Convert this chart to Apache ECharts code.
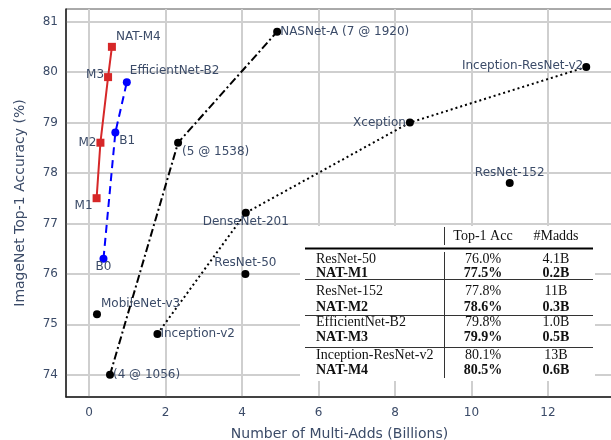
<!DOCTYPE html>
<html><head><meta charset="utf-8">
<script src="https://cdn.jsdelivr.net/npm/echarts@6/dist/echarts.min.js"></script>
<style>html,body{margin:0;padding:0;background:#fff}#c{width:611px;height:440px}</style>
</head><body><div id="c"></div>
<script>
// ---- data ----
const natNames = ['M1', 'M2', 'M3', 'NAT-M4'];
const natX = [0.2, 0.3, 0.5, 0.6];
const natY = [77.5, 78.6, 79.9, 80.5];

const effNames = ['B0', 'B1', 'EfficientNet-B2'];
const effX = [0.38, 0.69, 0.99];
const effY = [76.3, 78.8, 79.8];

const nasNames = ['(4 @ 1056)', '(5 @ 1538)', 'NASNet-A (7 @ 1920)'];
const nasX = [0.55, 2.33, 4.92];
const nasY = [74.0, 78.6, 80.8];

const handNames = ['Inception-v2', 'DenseNet-201', 'Xception', 'Inception-ResNet-v2'];
const handX = [1.79, 4.1, 8.39, 13.0];
const handY = [74.81, 77.21, 79.0, 80.1];

const otherNames = ['MobileNet-v3', 'ResNet-50', 'ResNet-152'];
const otherX = [0.21, 4.09, 11.0];
const otherY = [75.2, 76.0, 77.8];

const xTicks = [0, 2, 4, 6, 8, 10, 12];
const yTicks = [74, 75, 76, 77, 78, 79, 80, 81];

const tableHeader = ['', 'Top-1 Acc', '#Madds'];
const tableRows = [
  ['ResNet-50', '76.0%', '4.1B', false],
  ['NAT-M1', '77.5%', '0.2B', true],
  ['ResNet-152', '77.8%', '11B', false],
  ['NAT-M2', '78.6%', '0.3B', true],
  ['EfficientNet-B2', '79.8%', '1.0B', false],
  ['NAT-M3', '79.9%', '0.5B', true],
  ['Inception-ResNet-v2', '80.1%', '13B', false],
  ['NAT-M4', '80.5%', '0.6B', true]
];

// ---- label styles (per name) ----
const LBL = {
  'NAT-M4': ['left', 4, -10], 'M3': ['right', -4, -2], 'M2': ['right', -4, 0], 'M1': ['right', -4, 8],
  'EfficientNet-B2': ['left', 3, -11], 'B1': ['left', 4, 8], 'B0': ['center', 0, 8],
  '(4 @ 1056)': ['left', 3, 0], '(5 @ 1538)': ['left', 4, 9], 'NASNet-A (7 @ 1920)': ['left', 3, 0],
  'Inception-v2': ['left', 3, 0], 'DenseNet-201': ['center', 0, 9], 'Xception': ['right', -4, 0],
  'Inception-ResNet-v2': ['right', -3, -1], 'MobileNet-v3': ['left', 4, -10],
  'ResNet-50': ['center', 0, -11], 'ResNet-152': ['center', 0, -10]
};
const FONT = 'DejaVu Sans';
const TXT = '#3b4b68';
function pts(names, xs, ys) {
  return names.map((n, i) => {
    const l = LBL[n];
    return {
      name: n, value: [xs[i], ys[i]],
      label: { show: true, position: 'inside', align: l[0], verticalAlign: 'middle', offset: [l[1], l[2]],
        formatter: n, color: TXT, fontFamily: FONT, fontSize: 12 }
    };
  });
}

// ---- table graphics ----
const SERIF = 'Liberation Serif';
const g = [];
g.push({ type: 'rect', shape: { x: 300, y: 226, width: 295, height: 155 }, style: { fill: '#fff' }, z: 50 });
const colX = [316, 483, 556];
function txt(s, x, y, align, bold) {
  g.push({ type: 'text', x: x, y: y, z: 52, style: { text: s, font: (bold ? 'bold ' : '') + '14px "' + SERIF + '"', fill: '#111', align: align, verticalAlign: 'middle' } });
}
txt(tableHeader[1], colX[1], 236, 'center', false);
txt(tableHeader[2], colX[2], 236, 'center', false);
const rowY = [259, 273, 291, 307, 322, 337, 355, 370];
tableRows.forEach((r, i) => {
  txt(r[0], colX[0], rowY[i], 'left', r[3]);
  txt(r[1], colX[1], rowY[i], 'center', r[3]);
  txt(r[2], colX[2], rowY[i], 'center', r[3]);
});
function ln(x1, y1, x2, y2, w, c) {
  g.push({ type: 'line', z: 51, shape: { x1: x1, y1: y1, x2: x2, y2: y2 }, style: { stroke: c, lineWidth: w } });
}
ln(444.5, 227, 444.5, 245, 1, '#333');
ln(444.5, 252, 444.5, 378, 1, '#333');
ln(305, 248.5, 593, 248.5, 2, '#000');
[279.5, 315.5, 347.5].forEach(y => ln(305, y, 593, y, 1, '#333'));

// ---- chart ----
const chart = echarts.init(document.getElementById('c'), null, { renderer: 'canvas' });
const axisText = { color: TXT, fontFamily: FONT, fontSize: 12 };
chart.setOption({
  animation: false,
  backgroundColor: '#fff',
  grid: { left: 66, right: -2, top: 9, bottom: 43, show: true, borderColor: '#555', borderWidth: 1,
    containLabel: false, outerBoundsMode: 'none' },
  xAxis: {
    type: 'value', min: -0.6, max: 13.7,
    axisLine: { show: true, onZero: false, lineStyle: { color: '#222', width: 1.5 } },
    axisTick: { show: false, customValues: xTicks },
    axisLabel: Object.assign({ customValues: xTicks, margin: 10 }, axisText),
    splitLine: { show: true, lineStyle: { color: '#cfcfcf', width: 2 } },
    name: 'Number of Multi-Adds (Billions)', nameLocation: 'middle', nameGap: 30,
    nameTextStyle: { color: TXT, fontFamily: FONT, fontSize: 14 }
  },
  yAxis: {
    type: 'value', min: 73.56, max: 81.25,
    axisLine: { show: true, onZero: false, lineStyle: { color: '#222', width: 1.5 } },
    axisTick: { show: false, customValues: yTicks },
    axisLabel: Object.assign({ customValues: yTicks, margin: 8 }, axisText),
    splitLine: { show: true, lineStyle: { color: '#cfcfcf', width: 2 } },
    name: 'ImageNet Top-1 Accuracy (%)', nameLocation: 'middle', nameGap: 39,
    nameTextStyle: { color: TXT, fontFamily: FONT, fontSize: 14 }
  },
  series: [
    { type: 'line', data: pts(handNames, handX, handY), symbol: 'circle', symbolSize: 8,
      lineStyle: { color: '#000', width: 2, type: [2, 3] }, itemStyle: { color: '#000', opacity: 1 }, z: 3 },
    { type: 'line', data: pts(nasNames, nasX, nasY), symbol: 'circle', symbolSize: 8,
      lineStyle: { color: '#000', width: 2, type: [8, 3, 2, 3] }, itemStyle: { color: '#000', opacity: 1 }, z: 3 },
    { type: 'scatter', data: pts(otherNames, otherX, otherY), symbol: 'circle', symbolSize: 8,
      itemStyle: { color: '#000', opacity: 1 }, z: 3 },
    { type: 'line', data: pts(effNames, effX, effY), symbol: 'circle', symbolSize: 8,
      lineStyle: { color: '#0000ff', width: 2, type: [8, 5] }, itemStyle: { color: '#0000ff', opacity: 1 }, z: 4 },
    { type: 'line', data: pts(natNames, natX, natY), symbol: 'rect', symbolSize: 8,
      lineStyle: { color: '#d62728', width: 2 }, itemStyle: { color: '#d62728', opacity: 1 }, z: 5 }
  ],
  graphic: g
});
</script></body></html>
